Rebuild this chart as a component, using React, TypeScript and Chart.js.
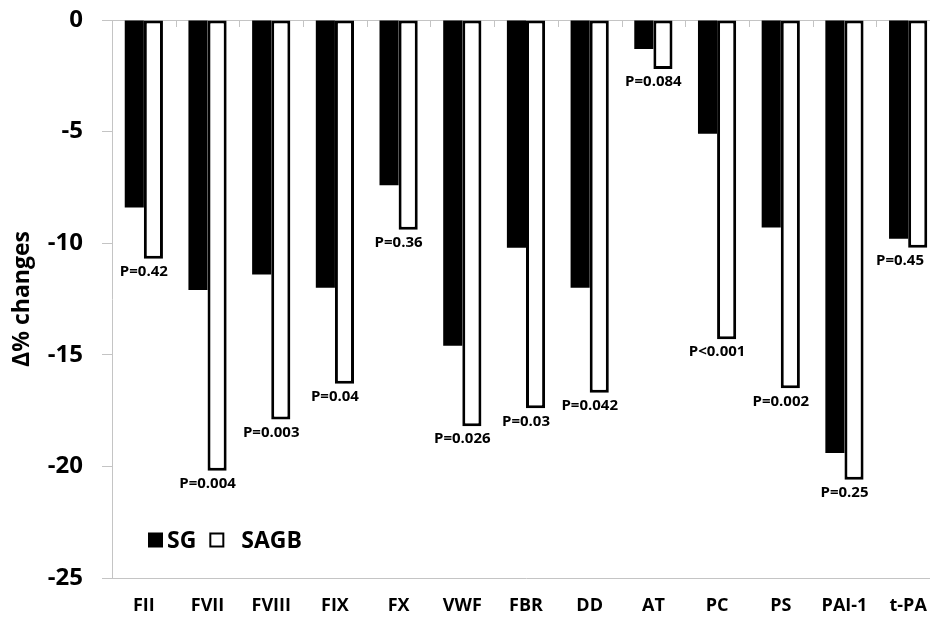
import React, { useEffect, useRef } from 'react';
import { Chart, registerables } from 'chart.js';

Chart.register(...registerables);

const categories = ['FII', 'FVII', 'FVIII', 'FIX', 'FX', 'VWF', 'FBR', 'DD', 'AT', 'PC', 'PS', 'PAI-1', 't-PA'];
const sgValues = [-8.4, -12.1, -11.4, -12.0, -7.4, -14.6, -10.2, -12.0, -1.3, -5.1, -9.3, -19.4, -9.8];
const sagbValues = [-10.7, -20.2, -17.9, -16.3, -9.4, -18.2, -17.4, -16.7, -2.2, -14.3, -16.5, -20.6, -10.2];
const pLabels = ['P=0.42', 'P=0.004', 'P=0.003', 'P=0.04', 'P=0.36', 'P=0.026', 'P=0.03', 'P=0.042', 'P=0.084', 'P<0.001', 'P=0.002', 'P=0.25', 'P=0.45'];
const yTicks = [0, -5, -10, -15, -20, -25];
const seriesNames = ['SG', 'SAGB'];

const FONT = "'Open Sans', 'Noto Sans', sans-serif";
const AXIS_GRAY = '#c4c4c4';
const VISIBLE_RIGHT = 924;

const topAxisPlugin = {
  id: 'topAxis',
  beforeDatasetsDraw(chart: any) {
    const { ctx, chartArea, scales } = chart;
    const x = scales.x;
    const y = scales.y;
    const y0 = Math.round(y.getPixelForValue(0));
    ctx.save();
    ctx.strokeStyle = AXIS_GRAY;
    ctx.lineWidth = 1;
    ctx.beginPath();
    ctx.moveTo(chartArea.left, y0 + 0.5);
    ctx.lineTo(chartArea.right, y0 + 0.5);
    const n = categories.length;
    for (let i = 1; i < n; i++) {
      const bx = Math.round((x.getPixelForValue(i - 1) + x.getPixelForValue(i)) / 2) + 0.5;
      ctx.moveTo(bx, y0);
      ctx.lineTo(bx, y0 + 7);
    }
    ctx.stroke();
    ctx.restore();
  },
};

const pLabelPlugin = {
  id: 'pLabels',
  afterDatasetsDraw(chart: any) {
    const { ctx, scales } = chart;
    const meta = chart.getDatasetMeta(1);
    ctx.save();
    ctx.font = `bold 15px ${FONT}`;
    ctx.fillStyle = '#000';
    ctx.textAlign = 'center';
    ctx.textBaseline = 'middle';
    meta.data.forEach((bar: any, i: number) => {
      let cx = scales.x.getPixelForValue(i);
      const half = ctx.measureText(pLabels[i]).width / 2;
      if (cx + half > VISIBLE_RIGHT) cx = VISIBLE_RIGHT - half;
      ctx.fillText(pLabels[i], cx, bar.y + 13);
    });
    ctx.restore();
  },
};

const legendPlugin = {
  id: 'customLegend',
  afterDraw(chart: any) {
    const { ctx, chartArea } = chart;
    const ds = chart.data.datasets;
    const left = chartArea.left + 36;
    const cy = chartArea.bottom - 38;
    const sq = 15;
    ctx.save();
    ctx.font = `bold 23px ${FONT}`;
    ctx.textBaseline = 'middle';
    ctx.textAlign = 'left';
    ctx.fillStyle = ds[0].backgroundColor;
    ctx.fillRect(left, cy - sq / 2, sq, sq);
    ctx.fillStyle = '#000';
    ctx.fillText(ds[0].label, left + sq + 4, cy + 1);
    const w1 = ctx.measureText(ds[0].label).width;
    const x2 = left + sq + 4 + w1 + 13;
    ctx.fillStyle = '#fff';
    ctx.fillRect(x2, cy - sq / 2, sq, sq);
    ctx.strokeStyle = '#000';
    ctx.lineWidth = 2;
    ctx.strokeRect(x2 + 1, cy - sq / 2 + 1, sq - 2, sq - 2);
    ctx.fillStyle = '#000';
    ctx.fillText(ds[1].label, x2 + sq + 17, cy + 1);
    ctx.restore();
  },
};

export default function App() {
  const canvasRef = useRef<HTMLCanvasElement | null>(null);

  useEffect(() => {
    if (!canvasRef.current) return;
    const chart = new Chart(canvasRef.current, {
      type: 'bar',
      data: {
        labels: categories,
        datasets: [
          {
            label: seriesNames[0],
            data: sgValues,
            backgroundColor: '#000000',
            borderWidth: 0,
            categoryPercentage: 0.6,
            barPercentage: 1.0,
          },
          {
            label: seriesNames[1],
            data: sagbValues,
            backgroundColor: '#ffffff',
            borderColor: '#000000',
            borderWidth: 3,
            borderSkipped: false,
            categoryPercentage: 0.6,
            barPercentage: 1.0,
          },
        ],
      },
      options: {
        animation: false,
        responsive: false,
        maintainAspectRatio: false,
        layout: { padding: { top: 20, left: 0, right: 2, bottom: 0 } },
        plugins: {
          legend: { display: false },
          tooltip: { enabled: false },
        },
        scales: {
          x: {
            type: 'category',
            position: 'bottom',
            afterFit(scale: any) {
              scale.height = 39;
              scale.paddingLeft = 0;
              scale.paddingRight = 0;
            },
            grid: { display: false, drawTicks: false, tickLength: 0 },
            border: { display: true, color: AXIS_GRAY, width: 1 },
            ticks: {
              color: '#000',
              padding: 17,
              font: { family: FONT, size: 18, weight: 'bold' },
              maxRotation: 0,
              autoSkip: false,
            },
          },
          y: {
            min: Math.min(...yTicks),
            max: Math.max(...yTicks),
            position: 'left',
            afterFit(scale: any) {
              scale.width = 112;
              scale.paddingTop = 0;
              scale.paddingBottom = 0;
            },
            grid: {
              display: true,
              drawOnChartArea: false,
              drawTicks: true,
              tickLength: 10,
              color: AXIS_GRAY,
            },
            border: { display: true, color: AXIS_GRAY, width: 1 },
            ticks: {
              stepSize: 5,
              color: '#000',
              padding: 19,
              font: { family: FONT, size: 24, weight: 'bold' },
            },
            title: {
              display: true,
              text: 'Δ% changes',
              color: '#000',
              font: { family: FONT, size: 23, weight: 'bold' },
              padding: { top: 9, bottom: 0 },
            },
          },
        },
      },
      plugins: [topAxisPlugin, pLabelPlugin, legendPlugin],
    } as any);
    return () => chart.destroy();
  }, []);

  return (
    <div style={{ position: 'fixed', left: 0, top: 0, width: 942, height: 617, background: '#fff', overflow: 'hidden' }}>
      <canvas ref={canvasRef} width={942} height={617} style={{ display: 'block' }} />
    </div>
  );
}
